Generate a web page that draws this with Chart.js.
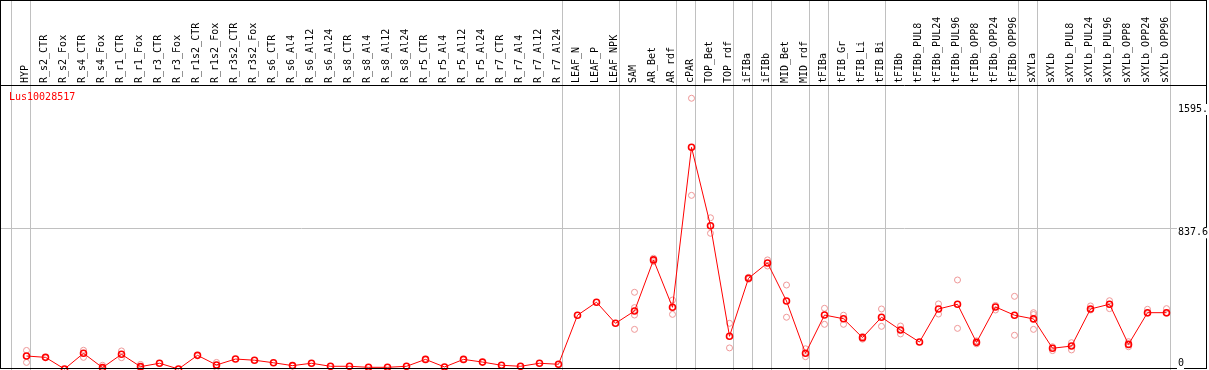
<!DOCTYPE html>
<html>
<head>
<meta charset="UTF-8">
<title>Lus10028517</title>
<style>
  body { margin: 0; background: #fff; }
  #wrap { width: 1209px; height: 370px; }
</style>
</head>
<body>
<div id="wrap"><canvas id="expr" width="1209" height="370"></canvas></div>
<script src="https://cdn.jsdelivr.net/npm/chart.js"></script>
<script>
// sample names, left to right
const categories = [
  'HYP',
  'R_s2_CTR', 'R_s2_Fox', 'R_s4_CTR', 'R_s4_Fox', 'R_r1_CTR', 'R_r1_Fox', 'R_r3_CTR', 'R_r3_Fox',
  'R_r1s2_CTR', 'R_r1s2_Fox', 'R_r3s2_CTR', 'R_r3s2_Fox',
  'R_s6_CTR', 'R_s6_Al4', 'R_s6_Al12', 'R_s6_Al24',
  'R_s8_CTR', 'R_s8_Al4', 'R_s8_Al12', 'R_s8_Al24',
  'R_r5_CTR', 'R_r5_Al4', 'R_r5_Al12', 'R_r5_Al24',
  'R_r7_CTR', 'R_r7_Al4', 'R_r7_Al12', 'R_r7_Al24',
  'LEAF_N', 'LEAF_P', 'LEAF_NPK',
  'SAM', 'AR_Bet', 'AR_rdf', 'cPAR', 'TOP_Bet', 'TOP_rdf', 'iFIBa', 'iFIBb', 'MID_Bet', 'MID_rdf',
  'tFIBa', 'tFIB_Gr', 'tFIB_Li', 'tFIB_Bi',
  'tFIBb', 'tFIBb_PUL8', 'tFIBb_PUL24', 'tFIBb_PUL96', 'tFIBb_OPP8', 'tFIBb_OPP24', 'tFIBb_OPP96',
  'sXYLa', 'sXYLb', 'sXYLb_PUL8', 'sXYLb_PUL24', 'sXYLb_PUL96', 'sXYLb_OPP8', 'sXYLb_OPP24', 'sXYLb_OPP96'
];

// mean expression per sample
const means = [
  80,
  72, 3, 96, 11, 90, 17, 37, 3,
  84, 27, 62, 55,
  40, 23, 37, 19,
  19, 13, 13, 19,
  60, 15, 60, 44,
  25, 19, 37, 31,
  322, 399, 274,
  347, 650, 369, 1318, 853, 197, 541, 632, 406, 96,
  323, 301, 189, 310,
  234, 163, 359, 387, 161, 371, 322,
  300, 126, 139, 359, 387, 149, 337, 337
];

// single replicates (pale circles), same order as categories
const replicates = [
  [113, 42],
  [], [], [114, 72], [25, 3], [110, 70], [30, 5], [], [],
  [], [42, 12], [], [],
  [], [], [], [],
  [], [], [], [],
  [], [], [], [],
  [], [], [], [],
  [], [], [],
  [458, 367, 323, 238], [660, 640], [412, 327], [1609, 1033], [900, 808], [274, 128],
  [547, 535], [650, 614], [501, 310], [123, 76],
  [363, 268], [322, 268], [196, 180], [359, 256],
  [258, 211], [], [389, 329], [531, 244], [170, 152], [380, 353], [434, 203],
  [337, 326, 238], [135, 112], [159, 116], [377, 353], [408, 361], [165, 135], [357, 333], [361, 333]
];

// last sample index of each group (gray separators)
const groupEnds = [-1, 0, 28, 31, 34, 35, 37, 38, 39, 41, 42, 45, 52, 53, 60];

const yTickValues = [1595, 837.6, 0];
const yTickLabels = ['1595.', '837.6', '0'];

const geneName = 'Lus10028517';

const monoFont = 'DejaVu Sans Mono';
const lineShift = 4 / 19;

const meanPoints = means.map((v, i) => ({ x: i, y: v }));
const repPoints = [];
replicates.forEach((reps, i) => reps.forEach(v => repPoints.push({ x: i, y: v })));

const framePlugin = {
  id: 'frame',
  beforeDatasetsDraw(chart) {
    const ctx = chart.ctx;
    const xs = chart.scales.x;
    ctx.save();
    ctx.strokeStyle = '#c0c0c0';
    ctx.lineWidth = 1;
    groupEnds.forEach(i => {
      const px = Math.floor(xs.getPixelForValue(i + lineShift)) + 0.5;
      ctx.beginPath();
      ctx.moveTo(px, 0);
      ctx.lineTo(px, chart.height);
      ctx.stroke();
    });
    ctx.restore();
  },
  afterDraw(chart) {
    const ctx = chart.ctx;
    const ca = chart.chartArea;
    const ys = chart.scales.y;
    ctx.save();
    // outer frame + header rule
    ctx.strokeStyle = '#000';
    ctx.lineWidth = 1;
    ctx.strokeRect(0.5, 0.5, ca.right, 368);
    ctx.beginPath();
    ctx.moveTo(0, ca.top + 0.5);
    ctx.lineTo(ca.right, ca.top + 0.5);
    ctx.stroke();

    ctx.font = '10px "' + monoFont + '"';
    ctx.textBaseline = 'top';
    ctx.textAlign = 'left';

    // gene name
    ctx.fillStyle = '#ff0000';
    ctx.fillText(geneName, 9, 92);

    // value labels on the right
    yTickValues.forEach((v, k) => {
      let py = ys.getPixelForValue(v) - 1;
      py = Math.min(Math.max(py, ca.top + 19), ca.bottom - 12);
      const w = ctx.measureText(yTickLabels[k]).width;
      ctx.fillStyle = '#fff';
      ctx.fillRect(1177, py, w + 1, 11);
      ctx.fillStyle = '#000';
      ctx.fillText(yTickLabels[k], 1178, py);
    });
    ctx.restore();
  }
};

new Chart(document.getElementById('expr'), {
  type: 'line',
  data: {
    datasets: [
      {
        label: 'replicates',
        data: repPoints,
        showLine: false,
        pointRadius: 3,
        pointBorderWidth: 1,
        pointBorderColor: 'rgb(238,150,150)',
        pointBackgroundColor: 'rgba(0,0,0,0)',
        order: 1
      },
      {
        label: geneName,
        data: meanPoints,
        borderColor: '#ff0000',
        borderWidth: 1,
        tension: 0,
        pointRadius: 3,
        pointBorderWidth: 1.6,
        pointBorderColor: '#ff0000',
        pointBackgroundColor: 'rgba(0,0,0,0)',
        order: 0
      }
    ]
  },
  options: {
    responsive: false,
    animation: false,
    events: [],
    layout: { autoPadding: false, padding: { left: 0, right: 3, top: 0, bottom: 0 } },
    plugins: {
      legend: { display: false },
      tooltip: { enabled: false }
    },
    scales: {
      x: {
        type: 'linear',
        position: 'top',
        min: -26.5 / 19,
        max: (1206 - 26.5) / 19,
        afterBuildTicks: s => { s.ticks = categories.map((c, i) => ({ value: i })); },
        afterFit: s => {
          s.height = 85;
          s.paddingLeft = 0;
          s.paddingRight = 0;
        },
        grid: { display: false, drawTicks: false },
        border: { display: false },
        ticks: {
          autoSkip: false,
          minRotation: 90,
          maxRotation: 90,
          padding: 2,
          labelOffset: 11,
          color: '#000',
          font: { family: monoFont, size: 10 },
          callback: v => categories[v]
        }
      },
      y: {
        type: 'linear',
        min: -3,
        max: 1687.6,
        afterBuildTicks: s => { s.ticks = yTickValues.map(v => ({ value: v })); },
        afterFit: s => { s.width = 0; },
        ticks: { display: false },
        border: { display: false },
        grid: {
          drawTicks: false,
          color: c => (c.tick && c.tick.value === 837.6) ? '#c0c0c0' : 'rgba(0,0,0,0)'
        }
      }
    }
  },
  plugins: [framePlugin]
});
</script>
</body>
</html>
